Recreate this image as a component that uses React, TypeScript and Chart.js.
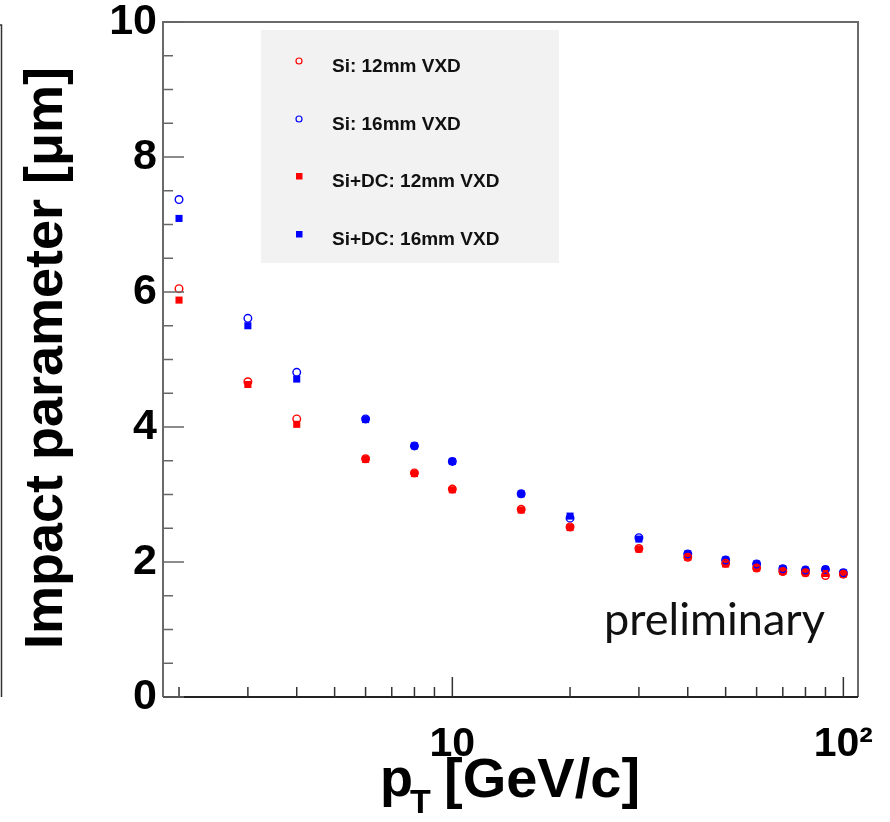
import React, { useEffect, useRef } from 'react';
import { Chart, registerables } from 'chart.js';

Chart.register(...registerables);

// ---- data ----
const pT = [2, 3, 4, 6, 8, 10, 15, 20, 30, 40, 50, 60, 70, 80, 90, 100];
const si12 = [6.05, 4.67, 4.12, 3.53, 3.32, 3.08, 2.78, 2.52, 2.2, 2.07, 1.98, 1.91, 1.86, 1.84, 1.8, 1.82];
const si16 = [7.37, 5.61, 4.81, 4.12, 3.72, 3.49, 3.01, 2.65, 2.36, 2.12, 2.03, 1.97, 1.9, 1.88, 1.89, 1.84];
const siDc12 = [5.88, 4.63, 4.04, 3.52, 3.31, 3.07, 2.77, 2.51, 2.19, 2.07, 1.97, 1.91, 1.86, 1.84, 1.83, 1.82];
const siDc16 = [7.09, 5.5, 4.71, 4.11, 3.72, 3.49, 3.01, 2.68, 2.34, 2.12, 2.03, 1.97, 1.9, 1.88, 1.89, 1.84];
const seriesNames = ['Si: 12mm VXD', 'Si: 16mm VXD', 'Si+DC: 12mm VXD', 'Si+DC: 16mm VXD'];

const xTickValues = [2, 3, 4, 5, 6, 7, 8, 9, 10, 20, 30, 40, 50, 60, 70, 80, 90, 100];
const xTickLabels: Record<number, string> = { 10: '10', 100: '10\u00B2' };
const yTickValues = [0, 2, 4, 6, 8, 10];
const yMinorStep = 0.5;
const yMajorStep = 2;

const yTitle = 'Impact parameter [\u03BCm]';
const xTitleMain = 'p';
const xTitleSub = 'T';
const xTitleUnit = '[GeV/c]';
const watermark = 'preliminary';

const FONT = '"Liberation Sans", Arial, sans-serif';

const decorPlugin = {
  id: 'decor',
  afterDraw(chart: any) {
    const ctx = chart.ctx as CanvasRenderingContext2D;
    const ca = chart.chartArea;
    const xs = chart.scales.x;
    const ys = chart.scales.y;
    ctx.save();

    // partial frame of neighbouring panel at far left
    ctx.strokeStyle = '#333';
    ctx.lineWidth = 1.5;
    ctx.beginPath();
    ctx.moveTo(0, 25);
    ctx.lineTo(1.5, 25);
    ctx.lineTo(1.5, 697);
    ctx.stroke();

    // frame
    ctx.strokeStyle = '#6a6a6a';
    ctx.lineWidth = 2;
    ctx.beginPath();
    ctx.moveTo(ca.left, ca.bottom);
    ctx.lineTo(ca.left, ca.top);
    ctx.lineTo(ca.right, ca.top);
    ctx.lineTo(ca.right, ca.bottom);
    ctx.stroke();
    ctx.strokeStyle = '#222';
    ctx.beginPath();
    ctx.moveTo(ca.left, ca.bottom);
    ctx.lineTo(ca.right, ca.bottom);
    ctx.stroke();

    // inner ticks
    ctx.lineWidth = 1.5;
    ctx.strokeStyle = '#333';
    xTickValues.forEach((v) => {
      const px = xs.getPixelForValue(v);
      const len = xTickLabels[v] ? 20 : 10;
      ctx.beginPath();
      ctx.moveTo(px, ca.bottom);
      ctx.lineTo(px, ca.bottom - len);
      ctx.stroke();
    });
    ctx.strokeStyle = '#666';
    for (let v = ys.min; v <= ys.max + 1e-9; v += yMinorStep) {
      const py = ys.getPixelForValue(v);
      const major = Math.abs(v / yMajorStep - Math.round(v / yMajorStep)) < 1e-6;
      const len = major ? 21 : 10;
      ctx.beginPath();
      ctx.moveTo(ca.left, py);
      ctx.lineTo(ca.left + len, py);
      ctx.stroke();
    }

    // legend
    const lx = 261, ly = 30, lw = 298, lh = 233;
    ctx.fillStyle = '#f2f2f2';
    ctx.fillRect(lx, ly, lw, lh);
    const rowY = [61, 119, 176, 234];
    chart.data.datasets.forEach((ds: any, i: number) => {
      const my = rowY[i];
      const mx = 299;
      if (ds.pointStyle === 'circle') {
        ctx.beginPath();
        ctx.arc(mx, my, 3, 0, Math.PI * 2);
        ctx.strokeStyle = ds.borderColor;
        ctx.lineWidth = 1.2;
        ctx.stroke();
      } else {
        ctx.fillStyle = ds.backgroundColor;
        ctx.fillRect(mx - 3, my - 3, 6.5, 6.5);
      }
      ctx.fillStyle = '#111';
      ctx.font = `bold 19px ${FONT}`;
      ctx.textAlign = 'left';
      ctx.textBaseline = 'middle';
      ctx.fillText(ds.label, 332, my + 6);
    });

    // y title
    ctx.save();
    ctx.translate(62, 358);
    ctx.rotate(-Math.PI / 2);
    ctx.fillStyle = '#000';
    ctx.font = `bold 54px ${FONT}`;
    ctx.textAlign = 'center';
    ctx.textBaseline = 'alphabetic';
    ctx.fillText(yTitle, 0, 0);
    ctx.restore();

    // x title
    ctx.fillStyle = '#000';
    ctx.textAlign = 'left';
    ctx.textBaseline = 'alphabetic';
    ctx.font = `bold 54px ${FONT}`;
    ctx.fillText(xTitleMain, 380, 796);
    ctx.font = `bold 34px ${FONT}`;
    ctx.fillText(xTitleSub, 410, 813);
    ctx.font = `bold 56px ${FONT}`;
    ctx.fillText(xTitleUnit, 444, 797);

    // watermark
    let size = 44;
    ctx.font = `${size}px Lato, "Open Sans", sans-serif`;
    const w = ctx.measureText(watermark).width;
    size = size * 221 / w;
    ctx.font = `${size}px Lato, "Open Sans", sans-serif`;
    ctx.fillStyle = '#111';
    ctx.fillText(watermark, 604, 635);

    ctx.restore();
  },
};

export default function App() {
  const ref = useRef<HTMLCanvasElement | null>(null);
  useEffect(() => {
    if (!ref.current) return;
    const mk = (arr: number[]) => pT.map((x, i) => ({ x, y: arr[i] }));
    const chart = new Chart(ref.current, {
      type: 'scatter',
      data: {
        datasets: [
          { label: seriesNames[0], data: mk(si12), pointStyle: 'circle', pointRadius: 3.8, borderWidth: 1.4, borderColor: '#ff0000', backgroundColor: 'rgba(255,255,255,0)' },
          { label: seriesNames[1], data: mk(si16), pointStyle: 'circle', pointRadius: 3.8, borderWidth: 1.4, borderColor: '#0000ff', backgroundColor: 'rgba(255,255,255,0)' },
          { label: seriesNames[2], data: mk(siDc12), pointStyle: 'rect', pointRadius: 5, borderWidth: 0, borderColor: '#ff0000', backgroundColor: '#ff0000' },
          { label: seriesNames[3], data: mk(siDc16), pointStyle: 'rect', pointRadius: 5, borderWidth: 0, borderColor: '#0000ff', backgroundColor: '#0000ff' },
        ] as any,
      },
      options: {
        animation: false,
        responsive: false,
        maintainAspectRatio: false,
        layout: { padding: { left: 0, top: 22, right: 32, bottom: 0 } },
        plugins: { legend: { display: false }, tooltip: { enabled: false } },
        scales: {
          x: {
            type: 'logarithmic',
            min: 1.82,
            max: 109,
            afterBuildTicks: (s: any) => { s.ticks = xTickValues.map((v) => ({ value: v })); },
            afterFit: (s: any) => { s.height = 125; s.paddingLeft = 0; s.paddingRight = 0; s.paddingTop = 0; s.paddingBottom = 0; },
            ticks: {
              autoSkip: false,
              maxRotation: 0,
              minRotation: 0,
              padding: 23,
              color: '#000',
              font: { family: FONT, size: 41, weight: 'bold' },
              callback: (v: any) => xTickLabels[Number(v)] ?? '',
            },
            grid: { display: false, drawTicks: false },
            border: { display: false },
          },
          y: {
            type: 'linear',
            min: 0,
            max: 10,
            afterBuildTicks: (s: any) => { s.ticks = yTickValues.map((v) => ({ value: v })); },
            afterFit: (s: any) => { s.width = 163; s.paddingLeft = 0; s.paddingRight = 0; s.paddingTop = 0; s.paddingBottom = 0; },
            ticks: {
              padding: 6,
              color: '#000',
              font: { family: FONT, size: 43, weight: 'bold' },
              callback: (v: any) => String(v),
            },
            grid: { display: false, drawTicks: false },
            border: { display: false },
          },
        },
      } as any,
      plugins: [decorPlugin],
    });
    return () => chart.destroy();
  }, []);
  return (
    <div style={{ position: 'absolute', left: 0, top: 0, width: 890, height: 822, background: '#fff' }}>
      <canvas ref={ref} width={890} height={822} style={{ display: 'block' }} />
    </div>
  );
}
